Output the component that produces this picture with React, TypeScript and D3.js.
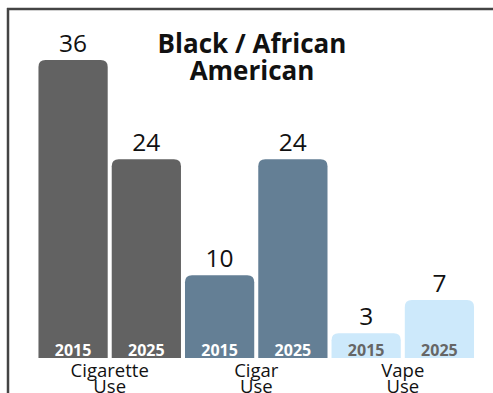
import React from "react";
import * as d3 from "d3";

const categories = ["Cigarette Use", "Cigar Use", "Vape Use"];
const years = ["2015", "2025"];
const values2015 = [36, 10, 3];
const values2025 = [24, 24, 7];
const barColors = ["#626262", "#647f95", "#cde9fb"];
const yearLabelColors = ["#ffffff", "#ffffff", "#666666"];
const title = ["Black / African", "American"];

const W = 493;
const H = 393;
const FONT = "'Open Sans', 'Noto Sans', sans-serif";

export default function App() {
  const rows = categories.flatMap((c, i) => [
    { cat: c, ci: i, year: years[0], value: values2015[i] },
    { cat: c, ci: i, year: years[1], value: values2025[i] },
  ]);
  const x = d3
    .scaleBand<number>()
    .domain(rows.map((_, i) => i))
    .range([37, 475.5])
    .paddingInner(0.055)
    .paddingOuter(0.02);
  const y = d3.scaleLinear().domain([0, 36]).range([358, 60]);
  const bw = x.bandwidth();
  const r = 7;
  const barPath = (x0: number, y0: number, w: number, y1: number) => {
    const rr = Math.min(r, (y1 - y0) / 2);
    return `M${x0},${y1}V${y0 + rr}Q${x0},${y0} ${x0 + rr},${y0}H${x0 + w - rr}Q${x0 + w},${y0} ${x0 + w},${y0 + rr}V${y1}Z`;
  };
  return (
    <svg
      width={W}
      height={H}
      style={{ position: "fixed", left: 0, top: 0, display: "block" }}
      fontFamily={FONT}
    >
      <rect x={0} y={0} width={W} height={H} fill="#fff" />
      <line x1={7} x2={W} y1={9} y2={9} stroke="#444" strokeWidth={2.5} />
      <line x1={8} x2={8} y1={8} y2={H} stroke="#444" strokeWidth={2.5} />
      {rows.map((d, i) => {
        const x0 = x(i)!;
        const cx = x0 + bw / 2;
        return (
          <g key={i}>
            <path d={barPath(x0, y(d.value), bw, y(0))} fill={barColors[d.ci]} />
            <text
              x={cx}
              y={y(d.value) - 8}
              textAnchor="middle"
              fontSize={24.5}
              fill="#111"
            >
              {d.value}
            </text>
            <text
              x={cx}
              y={356}
              textAnchor="middle"
              fontSize={16}
              fontWeight="bold"
              fill={yearLabelColors[d.ci]}
            >
              {d.year}
            </text>
          </g>
        );
      })}
      {categories.map((c, i) => {
        const cx = (x(i * 2)! + x(i * 2 + 1)! + bw) / 2;
        const parts = c.split(" ");
        return (
          <text key={c} x={cx} y={377} textAnchor="middle" fontSize={18.5} fill="#111">
            {parts.map((p, j) => (
              <tspan key={j} x={cx} dy={j === 0 ? 0 : 16}>
                {p}
              </tspan>
            ))}
          </text>
        );
      })}
      <text x={252} y={53} textAnchor="middle" fontSize={26} fontWeight="bold" fill="#111">
        {title.map((t, j) => (
          <tspan key={j} x={252} dy={j === 0 ? 0 : 27}>
            {t}
          </tspan>
        ))}
      </text>
    </svg>
  );
}
